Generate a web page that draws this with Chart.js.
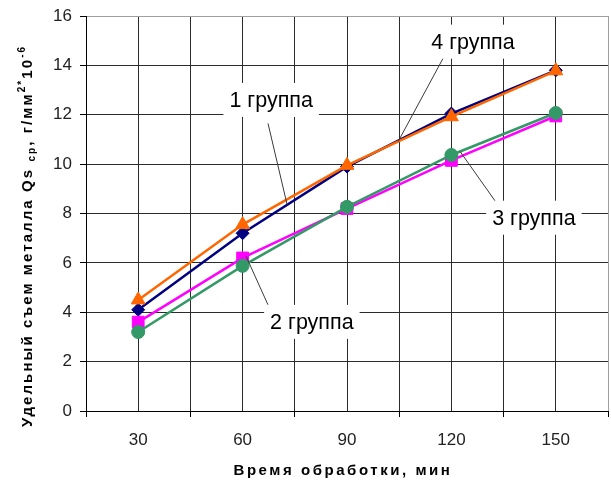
<!DOCTYPE html>
<html>
<head>
<meta charset="utf-8">
<script src="https://cdn.jsdelivr.net/npm/chart.js@4/dist/chart.umd.min.js"></script>
<style>
  html, body { margin: 0; padding: 0; background: #ffffff; }
  #wrap { width: 611px; height: 496px; }
</style>
</head>
<body>
<div id="wrap"><canvas id="chart" width="611" height="496"></canvas></div>
<script>
// Processing time, minutes
const minutes = [30, 60, 90, 120, 150];
// Specific metal removal per group
const group1 = [4.1, 7.2, 9.9, 12.05, 13.8];
const group2 = [3.6, 6.2, 8.2, 10.15, 11.95];
const group3 = [3.2, 5.88, 8.27, 10.37, 12.07];
const group4 = [4.5, 7.55, 9.95, 11.92, 13.78];
const groupNames = ['1 группа', '2 группа', '3 группа', '4 группа'];
const yTickValues = [0, 2, 4, 6, 8, 10, 12, 14, 16];

const FONT = '"Liberation Sans", Arial, Helvetica, sans-serif';

function toPoints(values) {
  return minutes.map((m, i) => ({ x: m, y: values[i] }));
}

// value of a series at an arbitrary time (straight segments between points)
function seriesAt(values, x) {
  for (let i = 0; i < minutes.length - 1; i++) {
    if (x >= minutes[i] && x <= minutes[i + 1]) {
      const t = (x - minutes[i]) / (minutes[i + 1] - minutes[i]);
      return values[i] + t * (values[i + 1] - values[i]);
    }
  }
  return values[values.length - 1];
}

// callouts: label centre and leader line, in axis units
const callouts = [
  { text: groupNames[0], cx: 68.2, cy: 12.6, fromX: 67.3, fromY: 11.65, toX: 72.8, series: group1 },
  { text: groupNames[3], cx: 126.2, cy: 14.96, fromX: 118.2, fromY: 14.44, toX: 104.7, series: group4 },
  { text: groupNames[2], cx: 143.7, cy: 7.83, fromX: 133.1, fromY: 8.4, toX: 122.5, series: group3 },
  { text: groupNames[1], cx: 79.9, cy: 3.61, fromX: 67.3, fromY: 4.3, toX: 61, series: group2 }
];

const calloutPlugin = {
  id: 'callouts',
  afterDatasetsDraw(chart) {
    const { ctx, scales: { x, y } } = chart;
    ctx.save();
    ctx.font = '21.5px ' + FONT;
    ctx.textAlign = 'center';
    ctx.textBaseline = 'middle';
    callouts.forEach(c => {
      const px = x.getPixelForValue(c.cx), py = y.getPixelForValue(c.cy);
      // leader line
      ctx.strokeStyle = '#3a3a3a';
      ctx.lineWidth = 1;
      ctx.beginPath();
      ctx.moveTo(x.getPixelForValue(c.fromX), y.getPixelForValue(c.fromY));
      ctx.lineTo(x.getPixelForValue(c.toX), y.getPixelForValue(seriesAt(c.series, c.toX)));
      ctx.stroke();
      // white label box
      const w = ctx.measureText(c.text).width;
      ctx.fillStyle = '#ffffff';
      ctx.fillRect(px - w / 2 - 6, py - 17, w + 12, 34);
      ctx.fillStyle = '#000000';
      ctx.fillText(c.text, px, py + 1);
    });
    ctx.restore();
  }
};

// draws a run of text pieces (with sub/superscripts) spread over a given length
function drawPieces(ctx, pieces, length) {
  const base = 15;
  let natural = 0, count = 0;
  pieces.forEach(p => {
    ctx.font = 'bold ' + (p.size || base) + 'px ' + FONT;
    ctx.letterSpacing = '0px';
    natural += ctx.measureText(p.t).width;
    count += [...p.t].length;
  });
  const spacing = Math.max(0, (length - natural) / count);
  let pos = -length / 2;
  pieces.forEach(p => {
    ctx.font = 'bold ' + (p.size || base) + 'px ' + FONT;
    ctx.letterSpacing = spacing.toFixed(2) + 'px';
    ctx.fillText(p.t, pos, p.dy || 0);
    pos += ctx.measureText(p.t).width;
  });
}

const titlePlugin = {
  id: 'axisTitles',
  afterDraw(chart) {
    const { ctx } = chart;
    ctx.save();
    ctx.fillStyle = '#000000';
    ctx.textAlign = 'left';
    ctx.textBaseline = 'middle';
    // x title
    ctx.save();
    ctx.translate(343, 471);
    drawPieces(ctx, [{ t: 'Время обработки, мин' }], 219);
    ctx.restore();
    // y title
    ctx.save();
    ctx.translate(28, 236);
    ctx.rotate(-Math.PI / 2);
    drawPieces(ctx, [
      { t: 'Удельный съем металла Qs ' },
      { t: 'ср', size: 10, dy: 4 },
      { t: ', г/мм' },
      { t: '2*', size: 10, dy: -6 },
      { t: '10' },
      { t: '-6', size: 10, dy: -6 }
    ], 382);
    ctx.restore();
    ctx.restore();
  }
};

const dark = '#2b2b2b';
const light = '#a0a0a0';

new Chart(document.getElementById('chart'), {
  type: 'line',
  data: {
    datasets: [
      { label: groupNames[0], data: toPoints(group1), borderColor: '#000080', backgroundColor: '#000080',
        pointStyle: 'rectRot', pointRadius: 6.5, order: 3 },
      { label: groupNames[1], data: toPoints(group2), borderColor: '#ff00ff', backgroundColor: '#ff00ff',
        pointStyle: 'rect', pointRadius: 8.3, order: 2 },
      { label: groupNames[2], data: toPoints(group3), borderColor: '#339966', backgroundColor: '#339966',
        pointStyle: 'circle', pointRadius: 6.5, order: 1 },
      { label: groupNames[3], data: toPoints(group4), borderColor: '#ff6600', backgroundColor: '#ff6600',
        pointStyle: 'triangle', pointRadius: 8, order: 0 }
    ].map(d => Object.assign(d, { borderWidth: 2.5, pointBorderWidth: 1, pointBorderColor: d.borderColor,
      pointBackgroundColor: d.backgroundColor, tension: 0, fill: false }))
  },
  options: {
    responsive: false,
    animation: false,
    layout: { autoPadding: false, padding: { left: 0, top: 16, right: 3, bottom: 0 } },
    plugins: { legend: { display: false }, tooltip: { enabled: false } },
    scales: {
      x: {
        type: 'linear', min: 15, max: 165,
        ticks: {
          stepSize: 15, autoSkip: false, maxRotation: 0, padding: 13,
          color: '#222222', font: { family: FONT, size: 17 },
          callback: v => (minutes.includes(v) ? String(v) : '')
        },
        grid: {
          color: c => (c.tick && c.tick.value === 165 ? light : dark),
          tickColor: c => (c.tick && minutes.includes(c.tick.value) ? 'rgba(0,0,0,0)' : '#000000'),
          tickLength: 6, lineWidth: 1
        },
        border: { color: '#000000', width: 1 },
        afterFit: s => { s.height = 85; s.paddingLeft = 0; s.paddingRight = 0; }
      },
      y: {
        min: 0, max: 16,
        afterBuildTicks: s => { s.ticks = yTickValues.map(v => ({ value: v })); },
        ticks: {
          padding: 8, color: '#222222', font: { family: FONT, size: 17 },
          callback: v => String(v)
        },
        grid: {
          color: c => (c.tick && c.tick.value === 16 ? light : dark),
          tickColor: '#000000', tickLength: 6, lineWidth: 1
        },
        border: { color: '#000000', width: 1 },
        afterFit: s => { s.width = 86; s.paddingTop = 0; s.paddingBottom = 0; }
      }
    }
  },
  plugins: [calloutPlugin, titlePlugin]
});
</script>
</body>
</html>
